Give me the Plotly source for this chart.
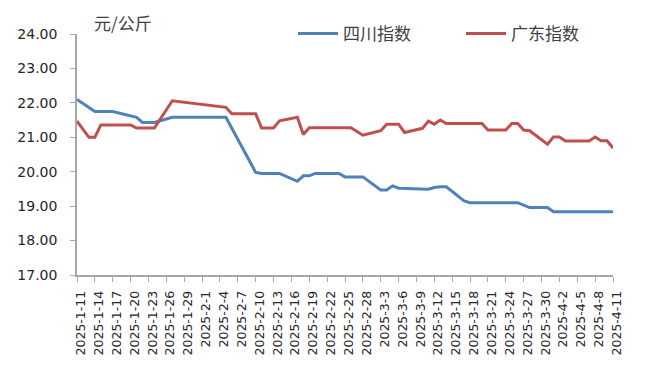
import plotly.graph_objects as go

sichuan_dates = ["2025-01-11", "2025-01-14", "2025-01-17", "2025-01-21", "2025-01-22", "2025-01-24",
                 "2025-01-27", "2025-02-05", "2025-02-10", "2025-02-11", "2025-02-14", "2025-02-17",
                 "2025-02-18", "2025-02-19", "2025-02-20", "2025-02-24", "2025-02-25", "2025-02-28",
                 "2025-03-03", "2025-03-04", "2025-03-05", "2025-03-06", "2025-03-11", "2025-03-12",
                 "2025-03-13", "2025-03-14", "2025-03-17", "2025-03-18", "2025-03-26", "2025-03-28",
                 "2025-03-31", "2025-04-01", "2025-04-11"]
sichuan_values = [22.10, 21.75, 21.75, 21.58, 21.43, 21.43,
                  21.58, 21.58, 19.98, 19.95, 19.95, 19.72,
                  19.88, 19.88, 19.95, 19.95, 19.85, 19.85,
                  19.47, 19.47, 19.59, 19.52, 19.49, 19.54,
                  19.56, 19.56, 19.15, 19.10, 19.10, 18.96,
                  18.96, 18.84, 18.84]

guangdong_dates = ["2025-01-11", "2025-01-13", "2025-01-14", "2025-01-15", "2025-01-20", "2025-01-21",
                   "2025-01-24", "2025-01-27", "2025-02-05", "2025-02-06", "2025-02-10", "2025-02-11",
                   "2025-02-13", "2025-02-14", "2025-02-17", "2025-02-18", "2025-02-19", "2025-02-26",
                   "2025-02-28", "2025-03-03", "2025-03-04", "2025-03-06", "2025-03-07", "2025-03-09",
                   "2025-03-10", "2025-03-11", "2025-03-12", "2025-03-13", "2025-03-14", "2025-03-20",
                   "2025-03-21", "2025-03-24", "2025-03-25", "2025-03-26", "2025-03-27", "2025-03-28",
                   "2025-03-31", "2025-04-01", "2025-04-02", "2025-04-03", "2025-04-07", "2025-04-08",
                   "2025-04-09", "2025-04-10", "2025-04-11"]
guangdong_values = [21.47, 21.00, 21.00, 21.36, 21.36, 21.27,
                    21.27, 22.06, 21.87, 21.68, 21.68, 21.27,
                    21.27, 21.48, 21.58, 21.08, 21.28, 21.28,
                    21.06, 21.19, 21.38, 21.38, 21.14, 21.22,
                    21.26, 21.47, 21.38, 21.50, 21.40, 21.40,
                    21.21, 21.21, 21.40, 21.40, 21.21, 21.19,
                    20.80, 21.01, 21.01, 20.89, 20.89, 21.01,
                    20.90, 20.90, 20.69]

x_tick_vals = ["2025-01-11", "2025-01-14", "2025-01-17", "2025-01-20", "2025-01-23", "2025-01-26",
               "2025-01-29", "2025-02-01", "2025-02-04", "2025-02-07", "2025-02-10", "2025-02-13",
               "2025-02-16", "2025-02-19", "2025-02-22", "2025-02-25", "2025-02-28", "2025-03-03",
               "2025-03-06", "2025-03-09", "2025-03-12", "2025-03-15", "2025-03-18", "2025-03-21",
               "2025-03-24", "2025-03-27", "2025-03-30", "2025-04-02", "2025-04-05", "2025-04-08",
               "2025-04-11"]
x_tick_text = ["2025-1-11", "2025-1-14", "2025-1-17", "2025-1-20", "2025-1-23", "2025-1-26",
               "2025-1-29", "2025-2-1", "2025-2-4", "2025-2-7", "2025-2-10", "2025-2-13",
               "2025-2-16", "2025-2-19", "2025-2-22", "2025-2-25", "2025-2-28", "2025-3-3",
               "2025-3-6", "2025-3-9", "2025-3-12", "2025-3-15", "2025-3-18", "2025-3-21",
               "2025-3-24", "2025-3-27", "2025-3-30", "2025-4-2", "2025-4-5", "2025-4-8",
               "2025-4-11"]

fig = go.Figure()
fig.add_trace(go.Scatter(x=sichuan_dates, y=sichuan_values, mode="lines", name="四川指数",
                         line=dict(color="#4F81BD", width=3)))
fig.add_trace(go.Scatter(x=guangdong_dates, y=guangdong_values, mode="lines", name="广东指数",
                         line=dict(color="#C0504D", width=3)))

# The page body adds an 8px offset, so the figure is 630x351 with margins set for that
fig.update_layout(
    width=630, height=351,
    margin=dict(l=69, r=25, t=26, b=84, autoexpand=False),
    paper_bgcolor="white", plot_bgcolor="white",
    showlegend=True,
    legend=dict(orientation="h", x=0.403, y=1.0, xanchor="left", yanchor="middle",
                font=dict(family="Noto Sans CJK SC", size=17, color="#404040"),
                bgcolor="rgba(0,0,0,0)", entrywidth=113, itemwidth=40),
    annotations=[dict(text="元/公斤", xref="paper", yref="paper", x=0.028, y=1.047,
                      xanchor="left", yanchor="middle", showarrow=False,
                      font=dict(family="Noto Sans CJK SC", size=17, color="#404040"))],
)
fig.update_xaxes(type="date", range=["2025-01-11", "2025-04-11"],
                 tickvals=x_tick_vals, ticktext=x_tick_text, tickangle=-90,
                 tickfont=dict(family="DejaVu Sans", size=12.5, color="#262626"),
                 showline=True, linecolor="#A6A6A6", linewidth=1.5,
                 ticks="outside", ticklen=5, tickcolor="#A6A6A6",
                 ticklabelstandoff=4, ticklabelshift=4,
                 showgrid=False, zeroline=False)
fig.update_yaxes(range=[17, 24], dtick=1, tick0=17, tickformat=".2f",
                 tickfont=dict(family="DejaVu Sans", size=14, color="#262626"),
                 showline=True, linecolor="#A6A6A6", linewidth=1.5,
                 ticks="outside", ticklen=5, tickcolor="#A6A6A6",
                 ticklabelstandoff=10,
                 showgrid=False, zeroline=False)

fig.write_html("out.html")
